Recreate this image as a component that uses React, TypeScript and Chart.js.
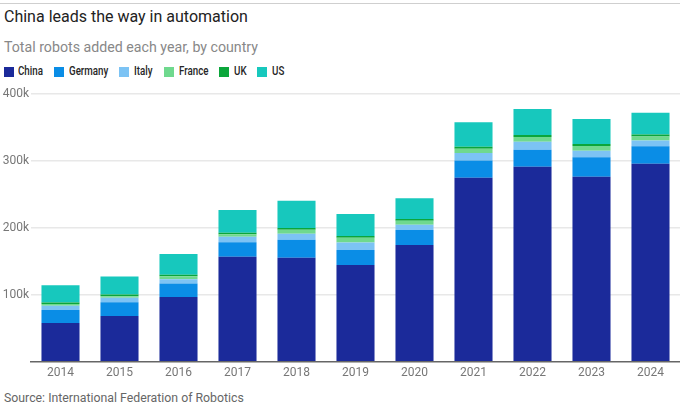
import React, { useEffect, useRef } from "react";
import { Chart, registerables } from "chart.js";

Chart.register(...registerables);

const years = ["2014", "2015", "2016", "2017", "2018", "2019", "2020", "2021", "2022", "2023", "2024"];
const china = [57800, 68200, 96600, 156700, 155200, 144300, 174200, 274200, 290600, 275700, 295100];
const germany = [19400, 20300, 20000, 21400, 26700, 22400, 22400, 26000, 25400, 29400, 26400];
const italy = [6400, 6800, 6500, 8300, 9000, 11000, 7500, 11000, 12000, 9500, 8400];
const france = [2600, 2500, 4300, 3800, 6000, 7300, 6000, 6400, 7300, 7200, 6000];
const uk = [2000, 2300, 2300, 2000, 2400, 2600, 2600, 2800, 2700, 3000, 2800];
const us = [25800, 27000, 31000, 34200, 40600, 32600, 31000, 36800, 38700, 37000, 32700];
const yTicks = [0, 100000, 200000, 300000, 400000];

const seriesNames = ["China", "Germany", "Italy", "France", "UK", "US"];
const seriesColors = ["#1b2a9a", "#0a8de6", "#7cc3f4", "#6fd98e", "#0ba63b", "#17c8bd"];
const seriesData = [china, germany, italy, france, uk, us];

// legend layout (left edge of each swatch, px)
const legendLeft = [4, 54.3, 119.3, 164.3, 219.3, 257.3];

export default function App() {
  const ref = useRef<HTMLCanvasElement | null>(null);

  useEffect(() => {
    if (!ref.current) return;
    const chart = new Chart(ref.current, {
      type: "bar",
      data: {
        labels: years,
        datasets: seriesNames.map((n, i) => ({
          label: n,
          data: seriesData[i],
          backgroundColor: seriesColors[i],
          borderWidth: 0,
          categoryPercentage: 1,
          barPercentage: 0.645,
        })),
      },
      options: {
        animation: false,
        responsive: true,
        maintainAspectRatio: false,
        layout: { padding: { top: 13.5, left: 0, right: 0, bottom: 0 } },
        plugins: { legend: { display: false }, tooltip: { enabled: false } },
        scales: {
          x: {
            stacked: true,
            grid: { display: false, drawTicks: false },
            border: { display: true, color: "#666", width: 1.5 },
            ticks: { color: "#777", font: { family: "Roboto", size: 12 }, padding: 4 },
            afterFit: (s: any) => { s.height = 22.3; },
          },
          y: {
            stacked: true,
            min: yTicks[0],
            max: yTicks[yTicks.length - 1],
            afterBuildTicks: (s: any) => { s.ticks = yTicks.map((v) => ({ value: v })); },
            grid: {
              color: (c: any) => (c.tick && c.tick.value === 0 ? "rgba(0,0,0,0)" : "#e8e8e8"),
              lineWidth: 1.5,
              drawTicks: false,
            },
            border: { display: false },
            ticks: {
              color: "#777",
              font: { family: "Roboto", size: 12 },
              padding: 2,
              callback: (v: any) => (Number(v) === 0 ? "" : Number(v) / 1000 + "k"),
            },
            afterFit: (s: any) => { s.width = 31; },
          },
        },
      },
    });
    return () => chart.destroy();
  }, []);

  return (
    <div style={{ position: "absolute", left: 0, top: 0, width: 680, height: 409, background: "#fff", fontFamily: "Roboto, sans-serif", overflow: "hidden" }}>
      <div style={{ position: "absolute", left: 0, top: 3, width: 680, height: 1, background: "#cfcfcf" }} />
      <div style={{ position: "absolute", left: 4, top: 7, fontSize: 16, lineHeight: "20px", color: "#222", whiteSpace: "nowrap" }}>
        China leads the way in automation
      </div>
      <div style={{ position: "absolute", left: 4, top: 38, fontSize: 14.2, lineHeight: "18px", color: "#888", whiteSpace: "nowrap" }}>
        Total robots added each year, by country
      </div>
      {seriesNames.map((n, i) => (
        <React.Fragment key={n}>
          <span style={{ position: "absolute", left: legendLeft[i], top: 66.5, width: 10, height: 10, background: seriesColors[i] }} />
          <span style={{ position: "absolute", left: legendLeft[i] + 14.3, top: 63, lineHeight: "16px", fontSize: 12.5, fontWeight: 500, color: "#262626", whiteSpace: "nowrap", transform: "scaleX(0.78)", transformOrigin: "left center" }}>
            {n}
          </span>
        </React.Fragment>
      ))}
      <div style={{ position: "absolute", left: 0, top: 80, width: 680, height: 304 }}>
        <canvas ref={ref} />
      </div>
      <div style={{ position: "absolute", left: 4, top: 390, fontSize: 12.3, lineHeight: "16px", color: "#666", whiteSpace: "nowrap" }}>
        Source: International Federation of Robotics
      </div>
    </div>
  );
}
